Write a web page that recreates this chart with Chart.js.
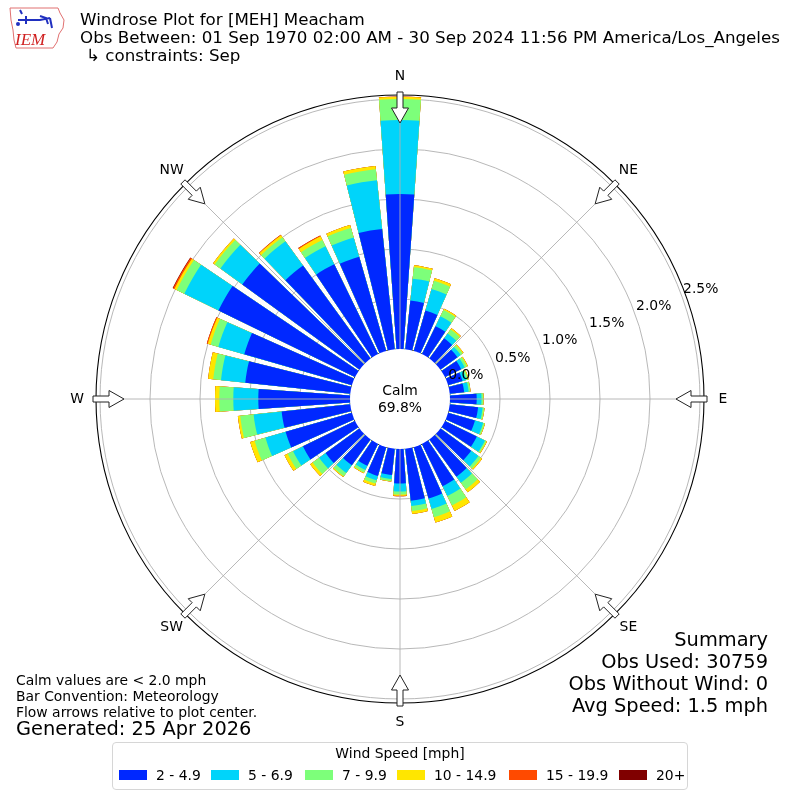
<!DOCTYPE html>
<html>
<head>
<meta charset="utf-8">
<title>Windrose Plot for [MEH] Meacham</title>
<script src="https://cdn.jsdelivr.net/npm/chart.js@4.4.1/dist/chart.umd.min.js"></script>
<style>
  body { margin: 0; background: #fff; font-family: "DejaVu Sans", sans-serif; }
  #wrap { position: relative; width: 800px; height: 800px; overflow: hidden; }
  #rose { position: absolute; left: 0; top: 0; }
  .txt { position: absolute; white-space: nowrap; color: #000; }
  .hdr { left: 80px; font-size: 16.7px; line-height: 18px; }
  .sum { right: 32px; font-size: 19.4px; line-height: 22px; text-align: right; }
  .note { left: 16px; font-size: 13.9px; line-height: 16px; }
  #legend { position: absolute; left: 112px; top: 742px; width: 576px; height: 48px;
            box-sizing: border-box; border: 1px solid #d6d6d6; border-radius: 4px; background: #fff; }
  #legend .ttl { position: absolute; left: 0; width: 100%; top: 2px; text-align: center;
                 font-size: 13.9px; line-height: 16px; }
  #legend .sw { position: absolute; top: 27px; width: 28px; height: 10px; }
  #legend .lb { position: absolute; top: 24px; font-size: 13.9px; line-height: 16px; white-space: nowrap; }
</style>
</head>
<body>
<div id="wrap">
  <canvas id="rose" width="800" height="800"></canvas>

  <svg style="position:absolute;left:6px;top:4px" width="62" height="48" viewBox="0 0 62 48">
    <path d="M4,4 L52,4 L54,9 L58,16 L57,24 L53,30 L51,38 L47,44 L10,44 L8,36 L7,26 L5,16 Z"
          fill="none" stroke="#e07070" stroke-width="1"/>
    <path d="M14,6 L16,10 M12,16 L34,16 L44,14 M20,12 L20,20 M34,12 L40,14 L42,20 M44,14 L46,24"
          fill="none" stroke="#2030c0" stroke-width="2"/>
    <circle cx="12" cy="20" r="2" fill="#2030c0"/>
    <text x="9" y="41" font-family="Liberation Serif, serif" font-style="italic" font-size="17" fill="#d02020">IEM</text>
  </svg>

  <div class="txt hdr" style="top:10px">Windrose Plot for [MEH] Meacham</div>
  <div class="txt hdr" style="top:28px">Obs Between: 01 Sep 1970 02:00 AM - 30 Sep 2024 11:56 PM America/Los_Angeles</div>
  <div class="txt hdr" style="top:46px;left:86px">↳ constraints: Sep</div>

  <div class="txt sum" style="top:629px">Summary</div>
  <div class="txt sum" style="top:651px">Obs Used: 30759</div>
  <div class="txt sum" style="top:673px">Obs Without Wind: 0</div>
  <div class="txt sum" style="top:695px">Avg Speed: 1.5 mph</div>

  <div class="txt note" style="top:672px">Calm values are &lt; 2.0 mph</div>
  <div class="txt note" style="top:688px">Bar Convention: Meteorology</div>
  <div class="txt note" style="top:704px">Flow arrows relative to plot center.</div>
  <div class="txt note" style="top:718px;font-size:19.4px;line-height:22px">Generated: 25 Apr 2026</div>

  <div id="legend"><div class="ttl">Wind Speed [mph]</div></div>
</div>

<script>
// direction of each bar, degrees clockwise from north
var directions = [0, 10, 20, 30, 40, 50, 60, 70, 80, 90, 100, 110, 120, 130, 140, 150, 160, 170,
                  180, 190, 200, 210, 220, 230, 240, 250, 260, 270, 280, 290, 300, 310, 320, 330, 340, 350];

// percent of observations per direction, one array per speed bin
var speed2to5 = [1.55, .49, .42, .31, .25, .21, .18, .15, .145, .267, .285, .28, .355, .38, .46, .47, .535, .524,
                 .345, .265, .30, .244, .32, .42, .58, .69, .69, .917, 1.056, 1.12, 1.52, 1.45, 1.15, 1.00, .98, 1.21];
var speed5to7 = [.74, .22, .225, .11, .06, .04, .04, .04, .045, .048, .045, .085, .09, .09, .076, .11, .11, .052,
                 .08, .04, .045, .046, .095, .08, .11, .21, .282, .25, .244, .27, .38, .27, .30, .20, .20, .49];
var speed7to10 = [.21, .115, .085, .07, .05, .025, .025, .018, .017, .018, .015, .015, .015, .03, .081, .105, .085, .05,
                  .03, .021, .035, .028, .04, .08, .06, .112, .135, .14, .078, .08, .085, .07, .05, .07, .10, .11];
var speed10to15 = [.023, .019, .025, .015, .015, .01, .01, .007, .003, .003, .005, .005, .008, .015, .035, .06, .055, .028,
                   .013, .004, .025, .009, .01, .03, .035, .046, .023, .043, .051, .03, .025, .02, .025, .04, .03, .034];
var speed15to20 = [.002, 0, 0, 0, 0, 0, 0, 0, 0, 0, 0, 0, 0, 0, 0, 0, 0, 0,
                   .004, 0, 0, 0, 0, 0, 0, 0, 0, 0, 0, .01, .015, 0, .005, .01, 0, 0];
var speed20plus = [0, 0, 0, 0, 0, 0, 0, 0, 0, 0, 0, 0, 0, 0, 0, 0, 0, 0,
                   0, 0, 0, 0, 0, 0, 0, 0, 0, 0, 0, 0, .005, 0, 0, 0, 0, 0];

var binLabels = ['2 - 4.9', '5 - 6.9', '7 - 9.9', '10 - 14.9', '15 - 19.9', '20+'];
var binColors = ['#0028ff', '#00d4fa', '#7dff7a', '#ffe600', '#ff4a00', '#800000'];
var radialTicks = [0, 0.5, 1.0, 1.5, 2.0, 2.5];
var compass = ['N', 'NE', 'E', 'SE', 'S', 'SW', 'W', 'NW'];
var calmPercent = '69.8%';

var rMin = -0.5, rMax = 2.54;     // the calm hole sits below zero
var barAngle = 8, gapAngle = 2;

// stack the bins: every dataset is the running total up to its bin,
// the smallest one ends up drawn on top. Each bar is followed by an empty gap slot.
var bins = [speed2to5, speed5to7, speed7to10, speed10to15, speed15to20, speed20plus];
var labels = [];
directions.forEach(function (d) { labels.push(d + '°', ''); });

var running = directions.map(function () { return 0; });
var datasets = bins.map(function (bin, k) {
    var data = [];
    bin.forEach(function (v, i) {
        running[i] += v;
        data.push(+running[i].toFixed(4), null);
    });
    return {
        label: binLabels[k],
        data: data,
        backgroundColor: function (c) { return c.dataIndex % 2 ? 'rgba(0,0,0,0)' : binColors[k]; },
        borderWidth: 0,
        angle: function (c) { return c.dataIndex % 2 ? gapAngle : barAngle; }
    };
});

// html legend
var legend = document.getElementById('legend');
var swatchX = [6, 98, 192, 284, 396, 506];
binLabels.forEach(function (l, k) {
    var sw = document.createElement('div');
    sw.className = 'sw';
    sw.style.left = swatchX[k] + 'px';
    sw.style.background = binColors[k];
    legend.appendChild(sw);
    var lb = document.createElement('div');
    lb.className = 'lb';
    lb.style.left = (swatchX[k] + 37) + 'px';
    lb.textContent = l;
    legend.appendChild(lb);
});

function polar(cx, cy, r, deg) {
    var a = deg * Math.PI / 180;
    return [cx + r * Math.sin(a), cy - r * Math.cos(a)];
}

var roseDecor = {
    id: 'roseDecor',
    afterDatasetsDraw: function (chart) {
        var s = chart.scales.r, ctx = chart.ctx;
        var cx = s.xCenter, cy = s.yCenter;
        var r0 = s.getDistanceFromCenterForValue(0);
        ctx.save();
        ctx.beginPath();
        ctx.arc(cx, cy, r0, 0, Math.PI * 2);
        ctx.fillStyle = '#fff';
        ctx.fill();
        ctx.strokeStyle = '#b0b0b0';
        ctx.lineWidth = 0.9;
        for (var k = 0; k < 8; k++) {
            var p = polar(cx, cy, r0, k * 45), q = polar(cx, cy, s.drawingArea, k * 45);
            ctx.beginPath();
            ctx.moveTo(p[0], p[1]);
            ctx.lineTo(q[0], q[1]);
            ctx.stroke();
        }
        ctx.restore();
    },
    afterDraw: function (chart) {
        var s = chart.scales.r, ctx = chart.ctx;
        var cx = s.xCenter, cy = s.yCenter, R = s.drawingArea;
        ctx.save();
        // outer frame
        ctx.beginPath();
        ctx.arc(cx, cy, R, 0, Math.PI * 2);
        ctx.strokeStyle = '#000';
        ctx.lineWidth = 1.1;
        ctx.stroke();

        ctx.font = '13.9px "DejaVu Sans"';
        ctx.fillStyle = '#000';
        ctx.textAlign = 'center';
        ctx.textBaseline = 'middle';

        // compass names and inward flow arrows
        compass.forEach(function (name, k) {
            var deg = k * 45;
            var t = polar(cx, cy, R + 19, deg);
            ctx.fillText(name, t[0], t[1]);

            var a = deg * Math.PI / 180;
            var ux = Math.sin(a), uy = -Math.cos(a), px = Math.cos(a), py = Math.sin(a);
            var pt = function (r, w) { return [cx + ux * r + px * w, cy + uy * r + py * w]; };
            var tail = R + 3, neck = R - 13, tip = R - 28;
            var shape = [pt(tail, -3), pt(neck, -3), pt(neck, -8.5), pt(tip, 0),
                         pt(neck, 8.5), pt(neck, 3), pt(tail, 3)];
            ctx.beginPath();
            shape.forEach(function (p, i) { i ? ctx.lineTo(p[0], p[1]) : ctx.moveTo(p[0], p[1]); });
            ctx.closePath();
            ctx.fillStyle = '#fff';
            ctx.fill();
            ctx.strokeStyle = '#222';
            ctx.lineWidth = 1;
            ctx.stroke();
            ctx.fillStyle = '#000';
        });

        // radial tick labels along 70 degrees
        radialTicks.forEach(function (v) {
            var p = polar(cx, cy, s.getDistanceFromCenterForValue(v) + 20, 70);
            ctx.fillText(v.toFixed(1) + '%', p[0], p[1]);
        });

        ctx.fillText('Calm', cx, cy - 8);
        ctx.fillText(calmPercent, cx, cy + 9);
        ctx.restore();
    }
};

new Chart(document.getElementById('rose'), {
    type: 'polarArea',
    data: { labels: labels, datasets: datasets },
    options: {
        responsive: false,
        animation: false,
        layout: { padding: { left: 96, right: 96, top: 95, bottom: 97 } },
        plugins: { legend: { display: false }, tooltip: { enabled: false } },
        scales: {
            r: {
                min: rMin,
                max: rMax,
                startAngle: -barAngle / 2,
                z: 1,
                ticks: { display: false, stepSize: 0.5, includeBounds: false },
                pointLabels: { display: false },
                angleLines: { display: false },
                grid: {
                    circular: true,
                    color: function (c) {
                        if (c.tick.value < 0) return 'rgba(0,0,0,0)';
                        return c.tick.value === 0 ? '#000' : '#b0b0b0';
                    },
                    lineWidth: function (c) { return c.tick.value === 0 ? 1.1 : 0.9; }
                }
            }
        }
    },
    plugins: [roseDecor]
});
</script>
</body>
</html>
